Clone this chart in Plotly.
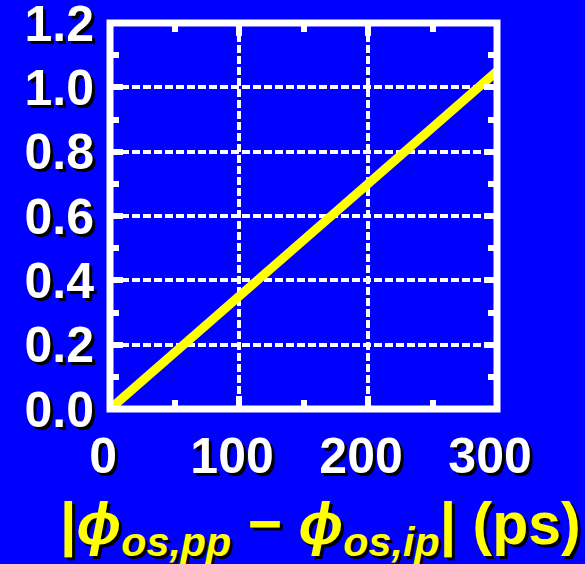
import plotly.graph_objects as go

# Data
delta_phi_ps = [0, 100, 200, 300]
ratio = [0.0, 0.35, 0.70, 1.05]

x_ticks = [0, 100, 200, 300]
x_ticklabels = ["0", "100", "200", "300"]
y_ticks = [0.0, 0.2, 0.4, 0.6, 0.8, 1.0, 1.2]
y_ticklabels = ["0.0", "0.2", "0.4", "0.6", "0.8", "1.0", "1.2"]

BLUE = "#0000FF"
YELLOW = "#FFFF00"
SHADOW = "3px 3px 0px #000000"
FONT = "Liberation Sans, Arial, sans-serif"
NBSP = "\u00a0"

fig = go.Figure()
fig.add_trace(go.Scatter(
    x=delta_phi_ps, y=ratio, mode="lines",
    line=dict(color=YELLOW, width=9),
    showlegend=False, hoverinfo="skip",
))

axis_common = dict(
    showline=False,
    zeroline=False,
    showgrid=True,
    gridcolor="white",
    gridwidth=4,
    griddash="8px,3px",
    ticks="inside",
    ticklen=13,
    tickwidth=6,
    tickcolor="white",
    mirror="ticks",
    ticklabeloverflow="allow",
    tickfont=dict(family=FONT, size=50, color="white", weight="bold", shadow=SHADOW),
)

fig.update_xaxes(
    range=[0, 300],
    tickmode="array", tickvals=x_ticks,
    ticktext=[t + NBSP for t in x_ticklabels],
    minor=dict(dtick=50, ticks="inside", ticklen=9, tickwidth=6, tickcolor="white", showgrid=False),
    ticklabelstandoff=13,
    **axis_common,
)
fig.update_yaxes(
    range=[0, 1.2],
    tickmode="array", tickvals=y_ticks, ticktext=y_ticklabels,
    minor=dict(dtick=0.1, ticks="inside", ticklen=9, tickwidth=6, tickcolor="white", showgrid=False),
    ticklabelstandoff=15,
    **axis_common,
)

fig.add_shape(
    type="rect", xref="paper", yref="paper", x0=0, x1=1, y0=0, y1=1,
    line=dict(color="white", width=7), layer="above",
)

fig.add_annotation(
    xref="paper", yref="paper", x=0.545, y=-0.307,
    xanchor="center", yanchor="middle", showarrow=False,
    text="|<i>ϕ</i><sub><i>os,pp</i></sub> − <i>ϕ</i><sub><i>os,ip</i></sub>| (ps)",
    font=dict(family=FONT, size=59, color=YELLOW, weight="bold", shadow=SHADOW),
)

fig.update_layout(
    width=585, height=564,
    margin=dict(l=110, r=88, t=23, b=155, autoexpand=False),
    paper_bgcolor=BLUE,
    plot_bgcolor=BLUE,
)

fig.write_html("out.html")
